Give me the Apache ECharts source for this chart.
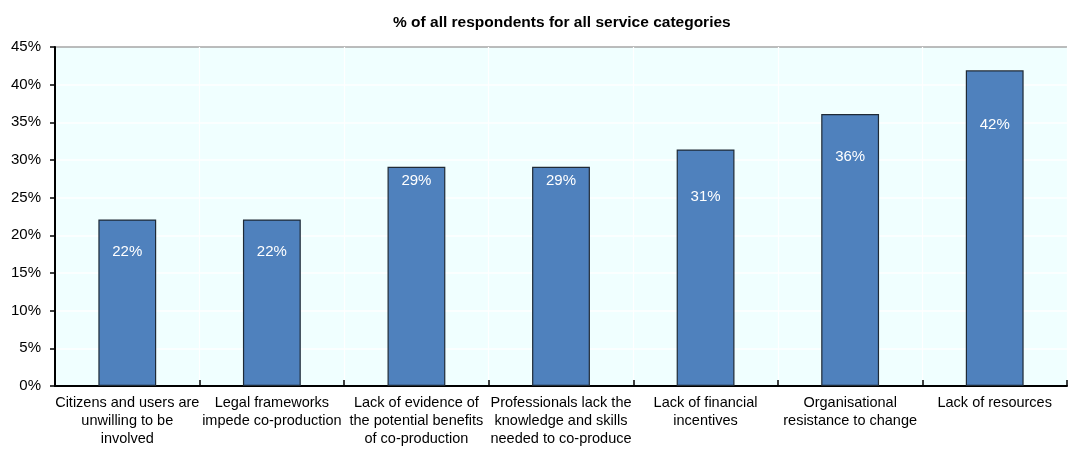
<!DOCTYPE html>
<html>
<head>
<meta charset="utf-8">
<script src="https://cdn.jsdelivr.net/npm/echarts@6/dist/echarts.min.js"></script>
<style>
  html, body { margin: 0; padding: 0; background: #ffffff; }
  #chart { width: 1072px; height: 450px; }
</style>
</head>
<body>
<div id="chart"></div>
<script>
// Barriers to co-production, % of all respondents
const categories = [
  'Citizens and users are\nunwilling to be\ninvolved',
  'Legal frameworks\nimpede co-production',
  'Lack of evidence of\nthe potential benefits\nof co-production',
  'Professionals lack the\nknowledge and skills\nneeded to co-produce',
  'Lack of financial\nincentives',
  'Organisational\nresistance to change',
  'Lack of resources'
];
const shares = [22.1, 22.1, 29.1, 29.1, 31.4, 36.1, 41.9];
const yTicks = [0, 5, 10, 15, 20, 25, 30, 35, 40, 45];
const titleText = '% of all respondents for all service categories';

// Vertical placement of each value label, measured from the bar top (px)
const labelDrop = [25, 25, 7, 7, 40, 35, 47];

const FONT = 'Liberation Sans, Arial, sans-serif';
const chart = echarts.init(document.getElementById('chart'), null, { renderer: 'canvas' });

const gridLineColors = yTicks.map((t, i) => (i === yTicks.length - 1 ? '#a6a6a6' : '#ffffff'));

chart.setOption({
  animation: false,
  textStyle: { fontFamily: FONT },
  title: {
    text: titleText,
    left: 393,
    top: 15,
    padding: 0,
    textStyle: { fontSize: 15.5, fontWeight: 'bold', color: '#000000', fontFamily: FONT }
  },
  grid: {
    left: 55, right: 5, top: 47, bottom: 64,
    show: true, backgroundColor: '#f0ffff', borderWidth: 0
  },
  xAxis: {
    type: 'category',
    data: categories,
    boundaryGap: true,
    axisLine: { lineStyle: { color: '#000000', width: 2 } },
    axisTick: { show: true, inside: true, length: 6, alignWithLabel: false, lineStyle: { color: '#000000', width: 1.5 } },
    splitLine: { show: true, lineStyle: { color: '#ffffff', width: 1.2 } },
    axisLabel: {
      interval: 0, color: '#000000', fontSize: 14.5, lineHeight: 18, margin: 8,
      fontFamily: FONT
    }
  },
  yAxis: {
    type: 'value',
    min: yTicks[0],
    max: yTicks[yTicks.length - 1],
    interval: 5,
    axisLine: { show: true, lineStyle: { color: '#000000', width: 2 } },
    axisTick: { show: true, inside: false, length: 5, lineStyle: { color: '#000000', width: 1.5 } },
    splitLine: { show: true, lineStyle: { color: gridLineColors, width: 1.5 } },
    axisLabel: {
      color: '#000000', fontSize: 15, margin: 14,
      fontFamily: FONT,
      formatter: v => v + '%'
    }
  },
  series: [{
    type: 'bar',
    barWidth: '40%',
    data: shares.map((v, i) => ({
      value: v,
      label: { distance: labelDrop[i] }
    })),
    itemStyle: { color: '#4f81bd', borderColor: '#1f2a36', borderWidth: 1.2 },
    label: {
      show: true,
      position: 'insideTop',
      color: '#ffffff',
      fontSize: 15,
      fontFamily: FONT,
      formatter: p => Math.round(p.value) + '%'
    }
  }]
});
</script>
</body>
</html>
